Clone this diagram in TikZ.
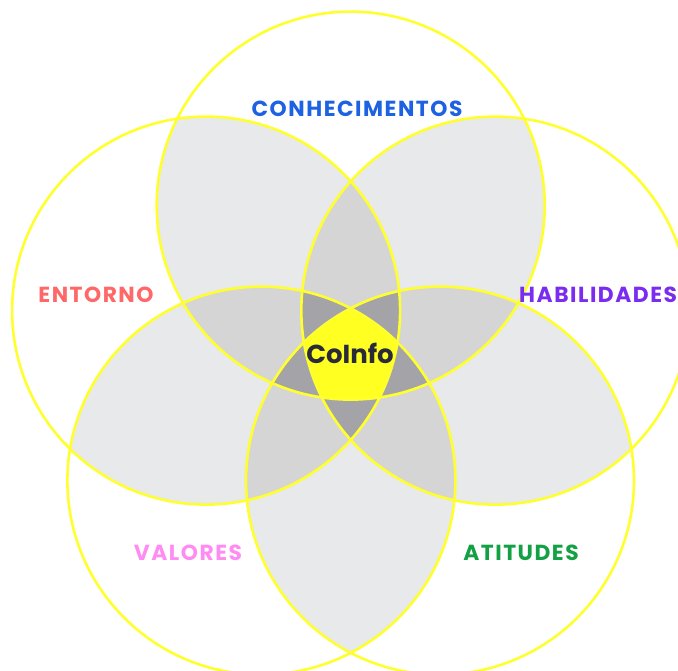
\documentclass[tikz,border=0pt]{standalone}
\usepackage{fontspec}
\setmainfont{Poppins}
\newfontfamily\labelfont[LetterSpace=7]{Poppins}
\definecolor{twoC}{HTML}{E8E9EA}
\definecolor{threeC}{HTML}{D5D5D5}
\definecolor{fourC}{HTML}{A4A3A7}
\definecolor{fiveC}{HTML}{FFFF22}
\definecolor{ringC}{HTML}{FFFF30}
\definecolor{blueT}{HTML}{1E62E4}
\definecolor{redT}{HTML}{FF6868}
\definecolor{purpleT}{HTML}{7A2CF0}
\definecolor{pinkT}{HTML}{FF8CF2}
\definecolor{greenT}{HTML}{14A044}
\definecolor{darkT}{HTML}{2A2B38}
\tikzset{
  ring/.style={draw=ringC, line width=2.6pt},
  lbl/.style={font=\labelfont\bfseries\fontsize{21.8}{25}\selectfont, inner sep=0pt},
}
\begin{document}
\begin{tikzpicture}[x=1pt,y=-1pt]
\useasboundingbox (0,0) rectangle (678,670);
\clip (0,0) rectangle (678,670);
\fill[white] (0,0) rectangle (678,670);
\def\rr{194pt}
\coordinate (ctr) at (350.7,357.6);
\coordinate (c1) at (350.7,205.6);
\coordinate (c2) at (206.1,310.6);
\coordinate (c3) at (261.4,480.6);
\coordinate (c4) at (440.0,480.6);
\coordinate (c5) at (495.3,310.6);
% two-fold overlaps
\foreach \a/\b in {1/2,1/3,1/4,1/5,2/3,2/4,2/5,3/4,3/5,4/5}{
  \begin{scope}
    \clip (c\a) circle[radius=\rr];
    \fill[twoC] (c\b) circle[radius=\rr];
  \end{scope}}
% three-fold overlaps
\foreach \a/\b/\c in {1/2/3,1/2/4,1/2/5,1/3/4,1/3/5,1/4/5,2/3/4,2/3/5,2/4/5,3/4/5}{
  \begin{scope}
    \clip (c\a) circle[radius=\rr];
    \clip (c\b) circle[radius=\rr];
    \fill[threeC] (c\c) circle[radius=\rr];
  \end{scope}}
% four-fold overlaps
\foreach \a/\b/\c/\d in {1/2/3/4,1/2/3/5,1/2/4/5,1/3/4/5,2/3/4/5}{
  \begin{scope}
    \clip (c\a) circle[radius=\rr];
    \clip (c\b) circle[radius=\rr];
    \clip (c\c) circle[radius=\rr];
    \fill[fourC] (c\d) circle[radius=\rr];
  \end{scope}}
% five-fold overlap
\begin{scope}
  \clip (c1) circle[radius=\rr];
  \clip (c2) circle[radius=\rr];
  \clip (c3) circle[radius=\rr];
  \clip (c4) circle[radius=\rr];
  \fill[fiveC] (c5) circle[radius=\rr];
\end{scope}
% outlines
\foreach \i in {1,...,5}{\draw[ring] (c\i) circle[radius=\rr];}
% labels
\node[lbl, text=blueT] (conh) at (357,109) {CONHECIMENTOS};
\node[lbl, text=redT] (ent) at (96,295) {ENTORNO};
\node[lbl, text=purpleT, anchor=west] (hab) at (519,295) {HABILIDADES};
\node[lbl, text=pinkT] (val) at (188,553) {VALORES};
\node[lbl, text=greenT] (ati) at (521,553) {ATITUDES};
\node[font=\bfseries\fontsize{26}{30}\selectfont, text=darkT, inner sep=0pt] (coinfo) at (350,353) {CoInfo};
\end{tikzpicture}
\end{document}
